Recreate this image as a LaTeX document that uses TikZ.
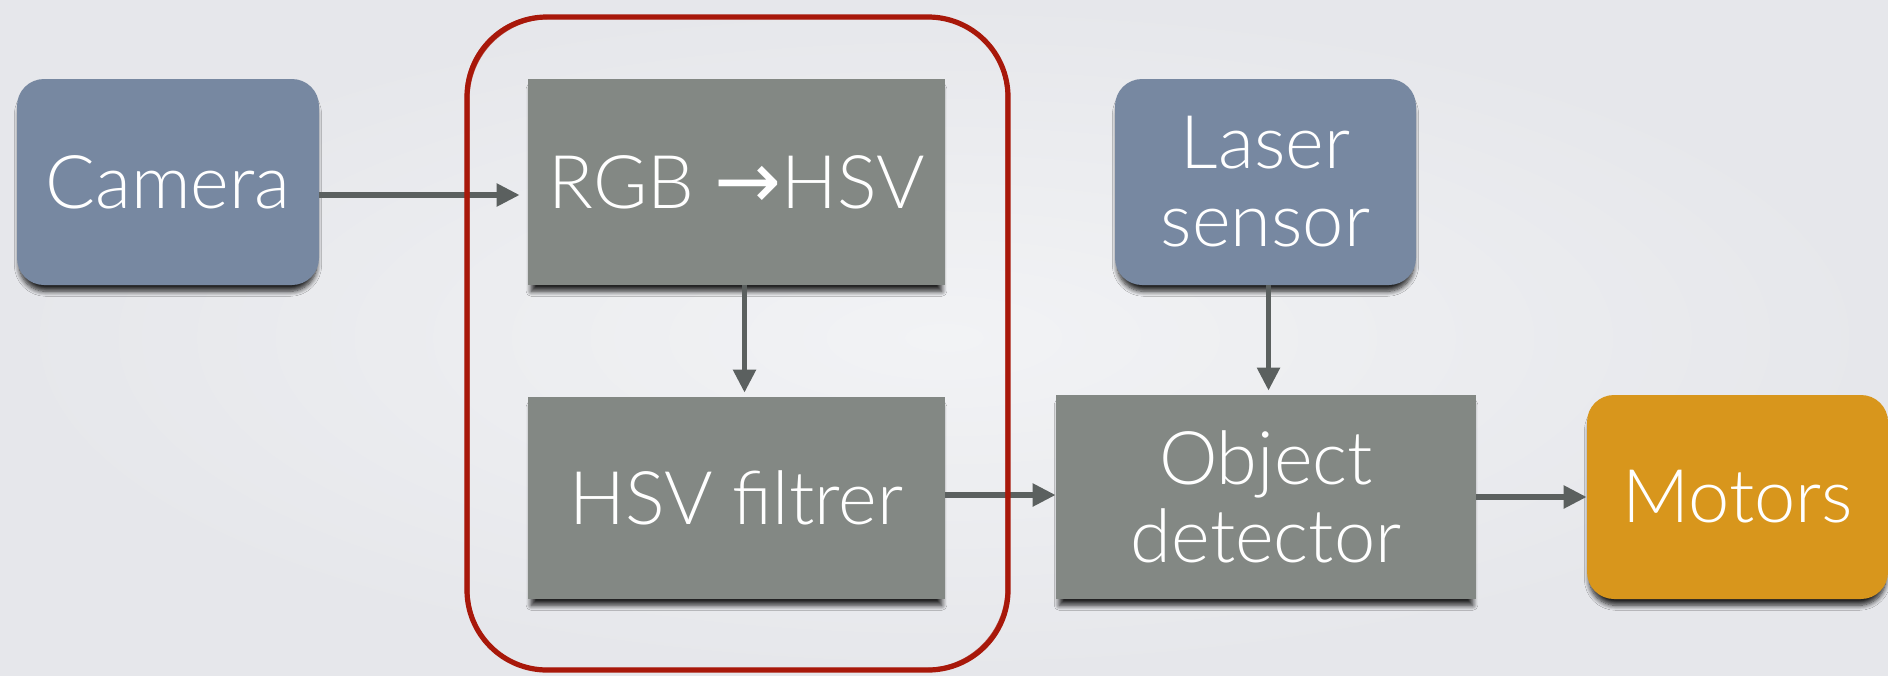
\documentclass[tikz,border=0pt]{standalone}
\usepackage{fontspec}
\setmainfont{Lato Light}
\newfontfamily\arrfont{DejaVu Sans}
\usetikzlibrary{arrows.meta,shadows.blur}
\definecolor{bgin}{HTML}{F2F3F5}
\definecolor{bgout}{HTML}{E6E7EB}
\definecolor{bluegray}{HTML}{7788A1}
\definecolor{boxgray}{HTML}{838884}
\definecolor{orangebox}{HTML}{D8961C}
\definecolor{arrowgray}{HTML}{5B605F}
\definecolor{penred}{HTML}{A8180A}
\begin{document}
\begin{tikzpicture}[x=0.5pt,y=-0.5pt,
  basebox/.style={minimum width=#1, minimum height=103pt, inner sep=0pt,
    text=white, align=center, font=\fontsize{37}{39}\selectfont,
    blur shadow={shadow xshift=0pt, shadow yshift=-4pt, shadow scale=0.985,
      shadow opacity=85, shadow blur radius=2.5pt, shadow blur steps=8}},
  bluebox/.style={basebox=#1, fill=bluegray, rounded corners=13.5pt},
  graybox/.style={basebox=#1, fill=boxgray},
  orangebox/.style={basebox=#1, fill=orangebox, rounded corners=13.5pt},
  conn/.style={draw=arrowgray, line width=2.7pt, -{Triangle[length=11.5pt,width=11pt]}},
  redpen/.style={draw=penred, line width=2.6pt, rounded corners=40pt},
  redthin/.style={draw=penred, line width=0.6pt, rounded corners=40pt, opacity=0.7}
]
\useasboundingbox (0,0) rectangle (1888,675);
\shade[inner color=bgin, outer color=bgout] (0,0) rectangle (1888,675);

\node[bluebox=151pt] (cam) at (168,182) {Camera};
\node[graybox=208.5pt] (rgb) at (736.5,182) {RGB {\arrfont\fontsize{40}{40}\selectfont →}HSV};
\node[graybox=208.5pt, minimum height=101pt] (hsvf) at (736.5,498) {HSV filtrer};
\node[bluebox=150.5pt] (laser) at (1265.5,182) {Laser\\sensor};
\node[graybox=210pt, minimum height=102pt] (obj) at (1266,497) {Object\\detector};
\node[orangebox=150.5pt, minimum height=102pt] (mot) at (1737.5,497) {Motors};

\draw[conn, shorten >=4pt] ([yshift=-6.5pt]cam.east) -- ([yshift=-6.5pt]rgb.west);
\draw[conn, shorten >=2pt] ([xshift=4pt]rgb.south) -- ([xshift=4pt]hsvf.north);
\draw[conn] ([yshift=1.5pt]hsvf.east) -- ([yshift=1.5pt]hsvf.east -| obj.west);
\draw[conn, shorten >=2pt] ([xshift=1.5pt]laser.south) -- ([xshift=1.5pt]laser.south |- obj.north);
\draw[conn] (obj.east) -- (mot.west);

\coordinate (rtl) at (467,17);
\coordinate (rbr) at (1008,670);
\draw[redpen] (rtl) rectangle (rbr);
\draw[redthin] ([xshift=1pt,yshift=-0.8pt]rtl) rectangle ([xshift=0.6pt,yshift=-0.5pt]rbr);
\draw[redthin] ([xshift=-0.8pt,yshift=0.7pt]rtl) rectangle ([xshift=-1pt,yshift=0.8pt]rbr);
\end{tikzpicture}
\end{document}
